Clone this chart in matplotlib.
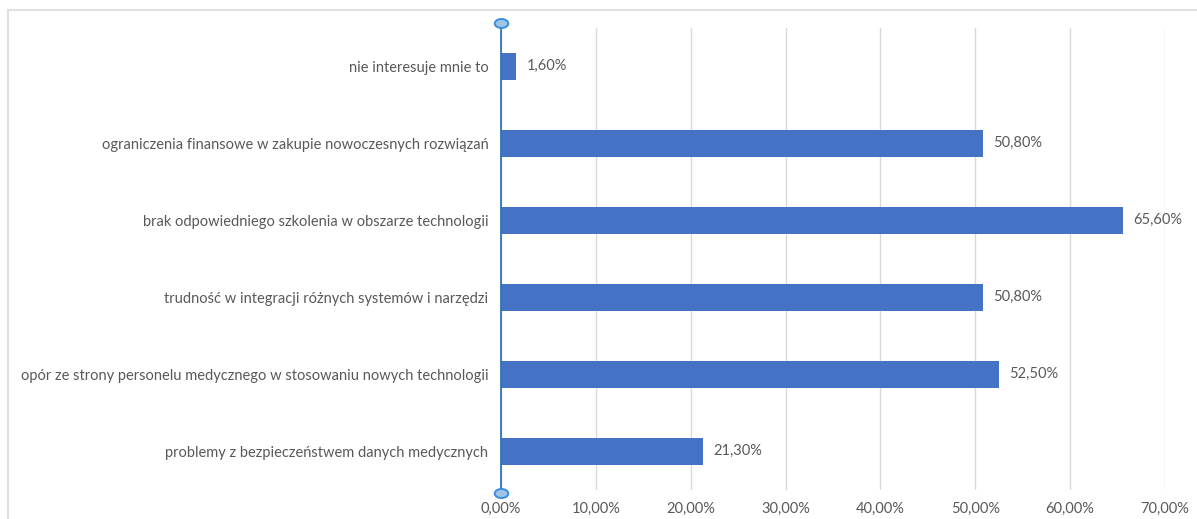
import matplotlib.pyplot as plt
from matplotlib.lines import Line2D
from matplotlib.markers import MarkerStyle
from matplotlib.transforms import Affine2D
from matplotlib.ticker import FuncFormatter, MultipleLocator

categories = [
    "nie interesuje mnie to",
    "ograniczenia finansowe w zakupie nowoczesnych rozwiązań",
    "brak odpowiedniego szkolenia w obszarze technologii",
    "trudność w integracji różnych systemów i narzędzi",
    "opór ze strony personelu medycznego w stosowaniu nowych technologii",
    "problemy z bezpieczeństwem danych medycznych",
]
values = [1.6, 50.8, 65.6, 50.8, 52.5, 21.3]

plt.rcParams['font.family'] = ['Lato', 'DejaVu Sans']
text_color = '#595959'
fs = 10.5


def pl_percent(v, pos=None):
    return f"{v:.2f}%".replace('.', ',')


fig = plt.figure(figsize=(11.97, 5.19), dpi=100)
ax = fig.add_axes([0.4185, 0.0568, 0.5547, 0.890])

ypos = list(range(len(categories)))
ax.barh(ypos, values, height=0.35, color='#4472C4', zorder=2)
for y, v in zip(ypos, values):
    ax.text(v + 1.1, y, pl_percent(v), va='center', ha='left',
            fontsize=fs, color=text_color)

ax.set_xlim(0, 70)
ax.set_ylim(len(categories) - 0.5, -0.5)
ax.set_yticks(ypos)
ax.set_yticklabels(categories, fontsize=fs, color=text_color)
ax.xaxis.set_major_locator(MultipleLocator(10))
ax.xaxis.set_major_formatter(FuncFormatter(pl_percent))
ax.tick_params(axis='x', labelsize=fs, labelcolor=text_color, length=0, pad=9)
ax.tick_params(axis='y', length=0, pad=9)

ax.grid(axis='x', color='#D9D9D9', linewidth=1, zorder=0)
for side in ['top', 'right', 'bottom']:
    ax.spines[side].set_visible(False)
ax.spines['left'].set_color('#2E75B6')
ax.spines['left'].set_linewidth(1.3)
ax.spines['left'].set_zorder(3)

# selection handles at both ends of the category axis
handle = MarkerStyle('o', transform=Affine2D().scale(1.5, 1.0))
for yv in (-0.56, len(categories) - 0.5 + 0.04):
    ax.plot([0], [yv], marker=handle, markersize=6.5, markerfacecolor='#9DC3E6',
            markeredgecolor='#3A8EE0', markeredgewidth=1.4,
            clip_on=False, zorder=5)

# chart area border (top and left edges)
fig.add_artist(Line2D([8 / 1197, 1], [1 - 10 / 519, 1 - 10 / 519],
                      color='#E0E0E0', linewidth=1.5))
fig.add_artist(Line2D([8 / 1197, 8 / 1197], [0, 1 - 10 / 519],
                      color='#E0E0E0', linewidth=1.5))

fig.savefig('out.png', dpi=100)
